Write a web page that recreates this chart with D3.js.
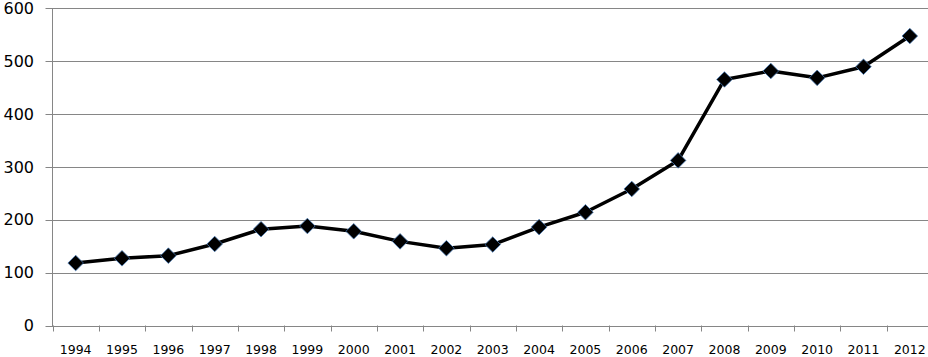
<!DOCTYPE html>
<html><head><meta charset="utf-8">
<script src="https://cdn.jsdelivr.net/npm/d3@7"></script>
<style>html,body{margin:0;padding:0;background:#fff;overflow:hidden}</style>
</head><body>
<svg id="c" width="928" height="357"></svg>
<script>
const years = ["1994","1995","1996","1997","1998","1999","2000","2001","2002","2003","2004","2005","2006","2007","2008","2009","2010","2011","2012"];
const values = [118,127,132,154,182,188,178,159,146,153,186,214,258,312,465,481,468,489,547];
const yTicks = [0,100,200,300,400,500,600];

(function(){
const svg = d3.select("#c");
const mL = 52.5, mR = 933, mT = 8, mB = 325.5;
const x = d3.scaleBand().domain(years).range([mL, mR]);
const y = d3.scaleLinear().domain([0,600]).range([mB, mT]);
const grid = "#868686";

svg.append("g").selectAll("line").data(yTicks).join("line")
  .attr("x1", mL-7).attr("x2", 928)
  .attr("y1", d=>Math.round(y(d))+0.5).attr("y2", d=>Math.round(y(d))+0.5)
  .attr("stroke", grid).attr("stroke-width",1);

svg.append("line").attr("x1", mL).attr("x2", mL).attr("y1", mT).attr("y2", mB+0.5)
  .attr("stroke", grid);

svg.append("g").selectAll("text").data(yTicks).join("text")
  .attr("x", 34).attr("y", d=>y(d)).attr("dy","0.36em")
  .attr("text-anchor","end")
  .attr("font-family","DejaVu Sans, sans-serif").attr("font-size",16).attr("fill","#000")
  .text(d=>d);

const bounds = years.map(d=>x(d)).concat([x(years[years.length-1])+x.bandwidth()]);
svg.append("g").selectAll("line").data(bounds).join("line")
  .attr("x1", d=>Math.round(d)+0.5).attr("x2", d=>Math.round(d)+0.5)
  .attr("y1", mB).attr("y2", mB+6).attr("stroke", grid);

svg.append("g").selectAll("text").data(years).join("text")
  .attr("x", d=>x(d)+x.bandwidth()/2).attr("y", 353.5)
  .attr("text-anchor","middle")
  .attr("font-family","DejaVu Sans, sans-serif").attr("font-size",12.5).attr("fill","#000")
  .text(d=>d);

const cx = (d,i)=>x(years[i])+x.bandwidth()/2;
const line = d3.line().x((d,i)=>cx(d,i)).y(d=>y(d));
svg.append("path").datum(values).attr("d", line)
  .attr("fill","none").attr("stroke","#000").attr("stroke-width",3.5).attr("stroke-linejoin","round");

const s = 7.8;
svg.append("g").selectAll("path").data(values).join("path")
  .attr("d", (d,i)=>{const px=cx(d,i), py=y(d);return `M${px},${py-s}L${px+s},${py}L${px},${py+s}L${px-s},${py}Z`;})
  .attr("fill","#000").attr("stroke","#4a7ebb").attr("stroke-width",0.75);
})();
</script>
</body></html>
